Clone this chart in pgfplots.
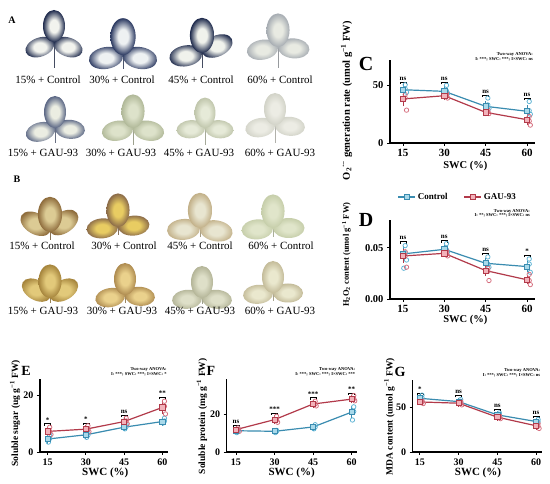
\documentclass[border=0pt]{standalone}
\usepackage{fontspec}
\setmainfont{Liberation Serif}
\usepackage{pgfplots}
\pgfplotsset{compat=1.18}

\definecolor{cblue}{HTML}{3A8CB0}
\definecolor{cred}{HTML}{B23A4A}
\definecolor{cbluel}{HTML}{A9D9EA}
\definecolor{credl}{HTML}{F2B2BA}
\definecolor{cbluep}{HTML}{5DB3D4}
\definecolor{credp}{HTML}{D56B7B}
% leaf colours
\definecolor{ac1i}{HTML}{F2F3EE}\definecolor{ac1o}{HTML}{1E2A4C}
\definecolor{ac2i}{HTML}{EEF1F2}\definecolor{ac2o}{HTML}{2A3860}
\definecolor{ac3i}{HTML}{F0F2EC}\definecolor{ac3o}{HTML}{1E2A4C}
\definecolor{ac4i}{HTML}{E8EAE2}\definecolor{ac4o}{HTML}{A6ACB2}
\definecolor{ag1i}{HTML}{EBEDE2}\definecolor{ag1o}{HTML}{5A6684}
\definecolor{ag2i}{HTML}{DDE2CA}\definecolor{ag2o}{HTML}{B0B898}
\definecolor{ag3i}{HTML}{E6EAD8}\definecolor{ag3o}{HTML}{C0C6AC}
\definecolor{ag4i}{HTML}{ECECE4}\definecolor{ag4o}{HTML}{D2D3C8}
\definecolor{bc1i}{HTML}{DCCB94}\definecolor{bc1o}{HTML}{8E6C3C}
\definecolor{bc2i}{HTML}{E8CC62}\definecolor{bc2o}{HTML}{8A6A48}
\definecolor{bc3i}{HTML}{E8E5D0}\definecolor{bc3o}{HTML}{C2B088}
\definecolor{bc4i}{HTML}{E0E5CA}\definecolor{bc4o}{HTML}{C6CEAA}
\definecolor{bg1i}{HTML}{E2C97A}\definecolor{bg1o}{HTML}{A5843C}
\definecolor{bg2i}{HTML}{EAD18C}\definecolor{bg2o}{HTML}{AE8B50}
\definecolor{bg3i}{HTML}{DEDFC8}\definecolor{bg3o}{HTML}{B4B598}
\definecolor{bg4i}{HTML}{EAE8CE}\definecolor{bg4o}{HTML}{C4BC9A}

\colorlet{leafin}{white}\colorlet{leafout}{black}
\pgfdeclareradialshading[leafin,leafout]{leafsh}{\pgfpoint{0bp}{0bp}}{%
  color(0bp)=(leafin); color(10bp)=(leafin); color(25bp)=(leafout); color(50bp)=(leafout)}

\newcommand{\leaflet}[5]{%
  \begin{scope}[rotate=#1]
    \colorlet{leafin}{#4}\colorlet{leafout}{#5}%
    \shade[shading=leafsh] (0,#2) ellipse ({#3} and {#2});
  \end{scope}}
\newcommand{\trifol}[8]{% x, py, s, aL, aR, inner, outer, stem
  \begin{scope}[shift={(#1,484-#2)}]
    \draw[line width=1pt, #7!60!gray] (0,0) -- (0,-#8);
    \leaflet{#4}{15*#3}{9.5*#3}{#6}{#7}
    \leaflet{#5}{15*#3}{9.5*#3}{#6}{#7}
    \leaflet{0}{16*#3}{11*#3}{#6}{#7}
  \end{scope}}

\newcommand{\sig}[3]{%
  \draw[line width=0.7pt] (axis cs:#1,#2) ++(-3pt,-1.8pt) -- ++(0pt,1.8pt) -- ++(6pt,0pt) -- ++(0pt,-1.8pt);
  \node[font=\bfseries\fontsize{7}{7}\selectfont, inner sep=0pt, anchor=south, yshift=1.5pt] at (axis cs:#1,#2) {#3};
}

\tikzset{anova/.style={font=\bfseries\fontsize{4.5}{4.8}\selectfont, align=right, inner sep=0pt, anchor=north east}}

\pgfplotsset{
  panel/.style={
    scale only axis, clip=false,
    axis x line*=bottom, axis y line*=left,
    axis line style={line width=1.1pt,-},
    every tick/.style={line width=0.9pt,black},
    tick align=outside, major tick length=3pt,
    xtick={15,30,45,60}, ymin=0,
    /pgf/number format/assume math mode=true,
    xlabel={SWC (\%)},
    xlabel style={anchor=center},
    ylabel style={anchor=center},
  },
  ctrlmean/.style={color=cblue, line width=1.2pt, mark=square*, mark size=2.6pt,
    mark options={fill=cbluel, draw=cblue, line width=0.8pt, solid},
    error bars/y dir=both, error bars/y explicit,
    error bars/error bar style={line width=0.8pt, cblue},
    error bars/error mark options={mark size=2.6pt, line width=0.8pt, cblue}},
  gaumean/.style={color=cred, line width=1.2pt, mark=square*, mark size=2.6pt,
    mark options={fill=credl, draw=cred, line width=0.8pt, solid},
    error bars/y dir=both, error bars/y explicit,
    error bars/error bar style={line width=0.8pt, cred},
    error bars/error mark options={mark size=2.6pt, line width=0.8pt, cred}},
  ctrlpts/.style={only marks, mark=o, mark size=2.2pt, mark options={draw=cbluep, line width=0.75pt}, forget plot},
  gaupts/.style={only marks, mark=o, mark size=2.2pt, mark options={draw=credp, line width=0.75pt}, forget plot},
  bigtick/.style={xticklabel style={font=\bfseries\fontsize{11}{11}\selectfont},
    yticklabel style={font=\bfseries\fontsize{10.5}{10.5}\selectfont},
    xlabel style={font=\bfseries\fontsize{10.5}{10.5}\selectfont},
    ylabel style={font=\bfseries\fontsize{8.5}{8.5}\selectfont}},
  smalltick/.style={xticklabel style={font=\bfseries\fontsize{10}{10}\selectfont},
    yticklabel style={font=\bfseries\fontsize{10}{10}\selectfont},
    xlabel style={font=\bfseries\fontsize{11}{11}\selectfont},
    ylabel style={font=\bfseries\fontsize{9.5}{9.5}\selectfont}},
}

\begin{document}
\begin{tikzpicture}[x=1pt,y=1pt]
\useasboundingbox (0,0) rectangle (550,484);
\fill[white] (0,0) rectangle (550,484);

% ---------------- Panel A leaves ----------------
\trifol{54}{42}{1.0}{110}{-110}{ac1i}{ac1o}{26}
\trifol{123}{55}{1.15}{100}{-100}{ac2i}{ac2o}{14}
\trifol{202}{53}{1.1}{100}{-65}{ac3i}{ac3o}{15}
\trifol{278}{47}{1.05}{100}{-95}{ac4i}{ac4o}{21}
\trifol{55}{128}{1.0}{105}{-95}{ag1i}{ag1o}{15}
\trifol{133}{128}{1.05}{100}{-100}{ag2i}{ag2o}{17}
\trifol{205}{128}{0.95}{95}{-95}{ag3i}{ag3o}{17}
\trifol{275}{125}{1.0}{100}{-95}{ag4i}{ag4o}{18}
% ---------------- Panel B leaves ----------------
\trifol{50}{232}{1.1}{60}{-55}{bc1i}{bc1o}{8}
\trifol{118}{227}{1.05}{95}{-85}{bc2i}{bc2o}{8}
\trifol{200}{228}{1.1}{95}{-100}{bc3i}{bc3o}{9}
\trifol{273}{228}{1.05}{95}{-90}{bc4i}{bc4o}{9}
\trifol{50}{298}{1.05}{60}{-60}{bg1i}{bg1o}{5}
\trifol{125}{295}{1.0}{100}{-95}{bg2i}{bg2o}{8}
\trifol{202}{298}{1.0}{95}{-95}{bg3i}{bg3o}{6}
\trifol{273}{293}{1.0}{95}{-90}{bg4i}{bg4o}{8}

\begin{scope}[every node/.style={font=\fontsize{11}{11}\selectfont, inner sep=0pt}]
\node at (48,404) {15\% + Control};
\node at (122,404) {30\% + Control};
\node at (201,404) {45\% + Control};
\node at (280,404) {60\% + Control};
\node at (43,331) {15\% + GAU-93};
\node at (121,331) {30\% + GAU-93};
\node at (199,331) {45\% + GAU-93};
\node at (280,331) {60\% + GAU-93};
\node at (42,238) {15\% + Control};
\node at (124,238) {30\% + Control};
\node at (200,238) {45\% + Control};
\node at (281,238) {60\% + Control};
\node at (43,173) {15\% + GAU-93};
\node at (122,173) {30\% + GAU-93};
\node at (200,173) {45\% + GAU-93};
\node at (280,173) {60\% + GAU-93};
\end{scope}

% ---------------- Panel C ----------------
\begin{axis}[panel, bigtick, at={(390pt,341pt)}, anchor=south west, width=145pt, height=83pt,
  xmin=10.3, xmax=62.9, ymax=72, ytick={0,50},
  xlabel style={at={(rel axis cs:0.52,-0.275)}},
  ylabel={O\textsubscript{2}\textsuperscript{·−} generation rate (umol g\textsuperscript{−1} FW)},
  ylabel style={at={(rel axis cs:-0.30,0.51)}, font=\bfseries\fontsize{10.5}{10.5}\selectfont},
]
\addplot[ctrlpts] coordinates {(15.8,50.5)(15.8,47)(16.3,44)(30.8,50)(30.8,45)(31.2,43)(45.8,39)(45.8,33)(46.2,30)(60.8,36)(60.8,28)(61.2,25)};
\addplot[gaupts] coordinates {(15.8,42)(15.8,39)(16.3,28.5)(30.8,43)(30.8,41)(31.2,39)(45.8,29)(45.8,27)(46.2,25.5)(60.8,23)(60.8,19)(61.2,15.5)};
\addplot[ctrlmean] coordinates {(15,46.2) +- (0,2.5) (30,44.8) +- (0,2) (45,31.8) +- (0,2.5) (60,27.5) +- (0,3)};
\addplot[gaumean] coordinates {(15,38.2) +- (0,4) (30,41) +- (0,1.5) (45,26.6) +- (0,1.2) (60,20.2) +- (0,2)};
\sig{15}{53}{ns}\sig{30}{52.5}{ns}\sig{45}{41.5}{ns}\sig{60}{39}{ns}
\node[anova] at (rel axis cs:0.986,1.096) {Two-way ANOVA:\\I: ***; SWC: ***; I×SWC: ns};
\end{axis}

% ---------------- Panel D ----------------
\begin{axis}[panel, bigtick, at={(390pt,185pt)}, anchor=south west, width=145pt, height=79pt,
  xmin=10.3, xmax=62.9, ymax=0.077, ytick={0,0.05}, scaled y ticks=false,
  y tick label style={/pgf/number format/fixed, /pgf/number format/fixed zerofill, /pgf/number format/precision=2},
  xlabel style={at={(rel axis cs:0.52,-0.27)}},
  ylabel={H\textsubscript{2}O\textsubscript{2} content (umol g\textsuperscript{−1} FW)},
  ylabel style={at={(rel axis cs:-0.30,0.56)}},
  legend style={at={(rel axis cs:0.03,1.29)}, anchor=west, draw=none, fill=none, legend columns=2,
    font=\bfseries\fontsize{9}{9}\selectfont, /tikz/every even column/.append style={column sep=14pt}},
]
\addplot[ctrlpts] coordinates {(15.8,0.052)(15.8,0.045)(16.3,0.038)(15.3,0.030)(30.8,0.054)(30.8,0.048)(31.2,0.046)(45.8,0.041)(45.8,0.034)(46.2,0.031)(60.8,0.039)(60.8,0.034)(61.2,0.026)};
\addplot[gaupts] coordinates {(15.8,0.046)(15.8,0.042)(16.3,0.031)(30.8,0.047)(30.8,0.044)(31.2,0.042)(45.8,0.030)(45.8,0.027)(46.2,0.018)(60.8,0.024)(60.8,0.018)(61.2,0.014)};
\addplot[ctrlmean] coordinates {(15,0.0439) +- (0,0.005) (30,0.0484) +- (0,0.002) (45,0.0348) +- (0,0.003) (60,0.0316) +- (0,0.003)};
\addlegendentry{Control}
\addplot[gaumean] coordinates {(15,0.0419) +- (0,0.004) (30,0.0445) +- (0,0.001) (45,0.0277) +- (0,0.003) (60,0.0187) +- (0,0.002)};
\addlegendentry{GAU-93}
\sig{15}{0.0558}{ns}\sig{30}{0.0568}{ns}\sig{45}{0.0443}{ns}\sig{60}{0.0423}{*}
\node[anova] at (rel axis cs:0.966,1.14) {Two-way ANOVA:\\I: **; SWC: ***; I×SWC: ns};
\end{axis}

% ---------------- Panel E ----------------
\begin{axis}[panel, smalltick, at={(40pt,32pt)}, anchor=south west, width=128pt, height=73pt,
  xmin=12.0, xmax=62.2, ymax=25.9, ytick={0,20},
  xlabel style={at={(rel axis cs:0.51,-0.29)}},
  ylabel={Soluble sugar (ug g\textsuperscript{−1} FW)},
  ylabel style={at={(rel axis cs:-0.195,0.53)}},
]
\addplot[ctrlpts] coordinates {(15.8,6)(15.8,4.8)(15.3,3.5)(30.8,6.8)(30.8,6)(30.3,5.2)(45.8,9.8)(45.8,9)(45.3,8.2)(60.8,12)(60.8,11)(60.3,10.3)};
\addplot[gaupts] coordinates {(15.8,8.8)(15.8,7.3)(16.3,6.2)(30.8,9.3)(30.8,8.1)(31.2,7.2)(45.8,12)(45.8,11)(46.2,10)(60.8,18)(60.8,16.2)(61.2,13.5)};
\addplot[ctrlmean] coordinates {(15,4.6) +- (0,0.8) (30,6.1) +- (0,0.5) (45,8.8) +- (0,0.5) (60,10.8) +- (0,0.5)};
\addplot[gaumean] coordinates {(15,7.3) +- (0,0.8) (30,8.1) +- (0,0.6) (45,10.8) +- (0,0.6) (60,15.8) +- (0,1.3)};
\sig{15}{10}{*}\sig{30}{10.2}{*}\sig{45}{13}{ns}\sig{60}{19.3}{**}
\node[anova] at (rel axis cs:0.99,1.16) {Two-way ANOVA:\\I: ***; SWC: ***; I×SWC: *};
\end{axis}

% ---------------- Panel F ----------------
\begin{axis}[panel, smalltick, at={(226.7pt,32pt)}, anchor=south west, width=130pt, height=73pt,
  xmin=11.4, xmax=61.95, ymax=38.8, ytick={0,20},
  xlabel style={at={(rel axis cs:0.50,-0.29)}},
  ylabel={Soluble protein (mg g\textsuperscript{−1} FW)},
  ylabel style={at={(rel axis cs:-0.19,0.49)}},
]
\addplot[ctrlpts] coordinates {(15.8,12)(15.8,11)(15.3,10.3)(30.8,11.5)(30.8,11)(30.3,10.3)(45.8,14.5)(45.8,13.3)(45.3,12.3)(60.8,24)(60.8,21.5)(60.3,17)};
\addplot[gaupts] coordinates {(15.8,12.8)(15.8,12)(16.3,11)(30.8,19)(30.8,17)(31.2,15.8)(45.8,27)(45.8,25.5)(46.2,24.5)(60.8,30)(60.8,28.3)(61.2,27.2)};
\addplot[ctrlmean] coordinates {(15,11.3) +- (0,0.5) (30,11.0) +- (0,0.4) (45,13.3) +- (0,0.6) (60,21.2) +- (0,2)};
\addplot[gaumean] coordinates {(15,11.9) +- (0,0.5) (30,17.2) +- (0,1) (45,25.5) +- (0,0.8) (60,28.1) +- (0,0.8)};
\sig{15}{14.3}{ns}\sig{30}{20.8}{***}\sig{45}{28.8}{***}\sig{60}{31.3}{**}
\node[anova] at (rel axis cs:0.99,1.16) {Two-way ANOVA:\\I: ***; SWC: ***; I×SWC: ***};
\end{axis}

% ---------------- Panel G ----------------
\begin{axis}[panel, smalltick, at={(412.7pt,32pt)}, anchor=south west, width=129pt, height=72pt,
  xmin=12.2, xmax=62.2, ymax=81, ytick={0,50},
  xlabel style={at={(rel axis cs:0.506,-0.29)}},
  ylabel={MDA content (umol g\textsuperscript{−1} FW)},
  ylabel style={at={(rel axis cs:-0.18,0.49)}},
]
\addplot[ctrlpts] coordinates {(15.8,64)(15.8,61)(15.3,58)(30.8,59)(30.8,57)(30.3,55)(45.8,44)(45.8,42)(45.3,40.5)(60.8,36.5)(60.8,34)(60.3,32)};
\addplot[gaupts] coordinates {(15.8,58)(15.8,56)(16.3,54.5)(30.8,57)(30.8,55)(31.2,53)(45.8,41)(45.8,39)(46.2,37.5)(60.8,32)(60.8,29)(61.2,26.5)};
\addplot[ctrlmean] coordinates {(15,60.4) +- (0,1.8) (30,56.7) +- (0,1.2) (45,41.8) +- (0,1) (60,34.3) +- (0,1.3)};
\addplot[gaumean] coordinates {(15,56.3) +- (0,1) (30,54.9) +- (0,1.2) (45,39.2) +- (0,1) (60,29.5) +- (0,1.5)};
\sig{15}{66.5}{*}\sig{30}{63.5}{ns}\sig{45}{48}{ns}\sig{60}{40}{ns}
\node[anova] at (rel axis cs:0.99,1.16) {Two-way ANOVA:\\I: ***; SWC: ***; I×SWC: ns};
\end{axis}

% ---------------- Panel letters ----------------
\node[font=\bfseries\fontsize{10}{10}\selectfont] at (12,464) {A};
\node[font=\bfseries\fontsize{10}{10}\selectfont] at (17,305) {B};
\node[font=\bfseries\fontsize{20}{20}\selectfont] at (366,420) {C};
\node[font=\bfseries\fontsize{20}{20}\selectfont] at (366,264) {D};
\node[font=\bfseries\fontsize{14}{14}\selectfont] at (26,113) {E};
\node[font=\bfseries\fontsize{14}{14}\selectfont] at (211,113) {F};
\node[font=\bfseries\fontsize{14}{14}\selectfont] at (400,112) {G};
\end{tikzpicture}
\end{document}
